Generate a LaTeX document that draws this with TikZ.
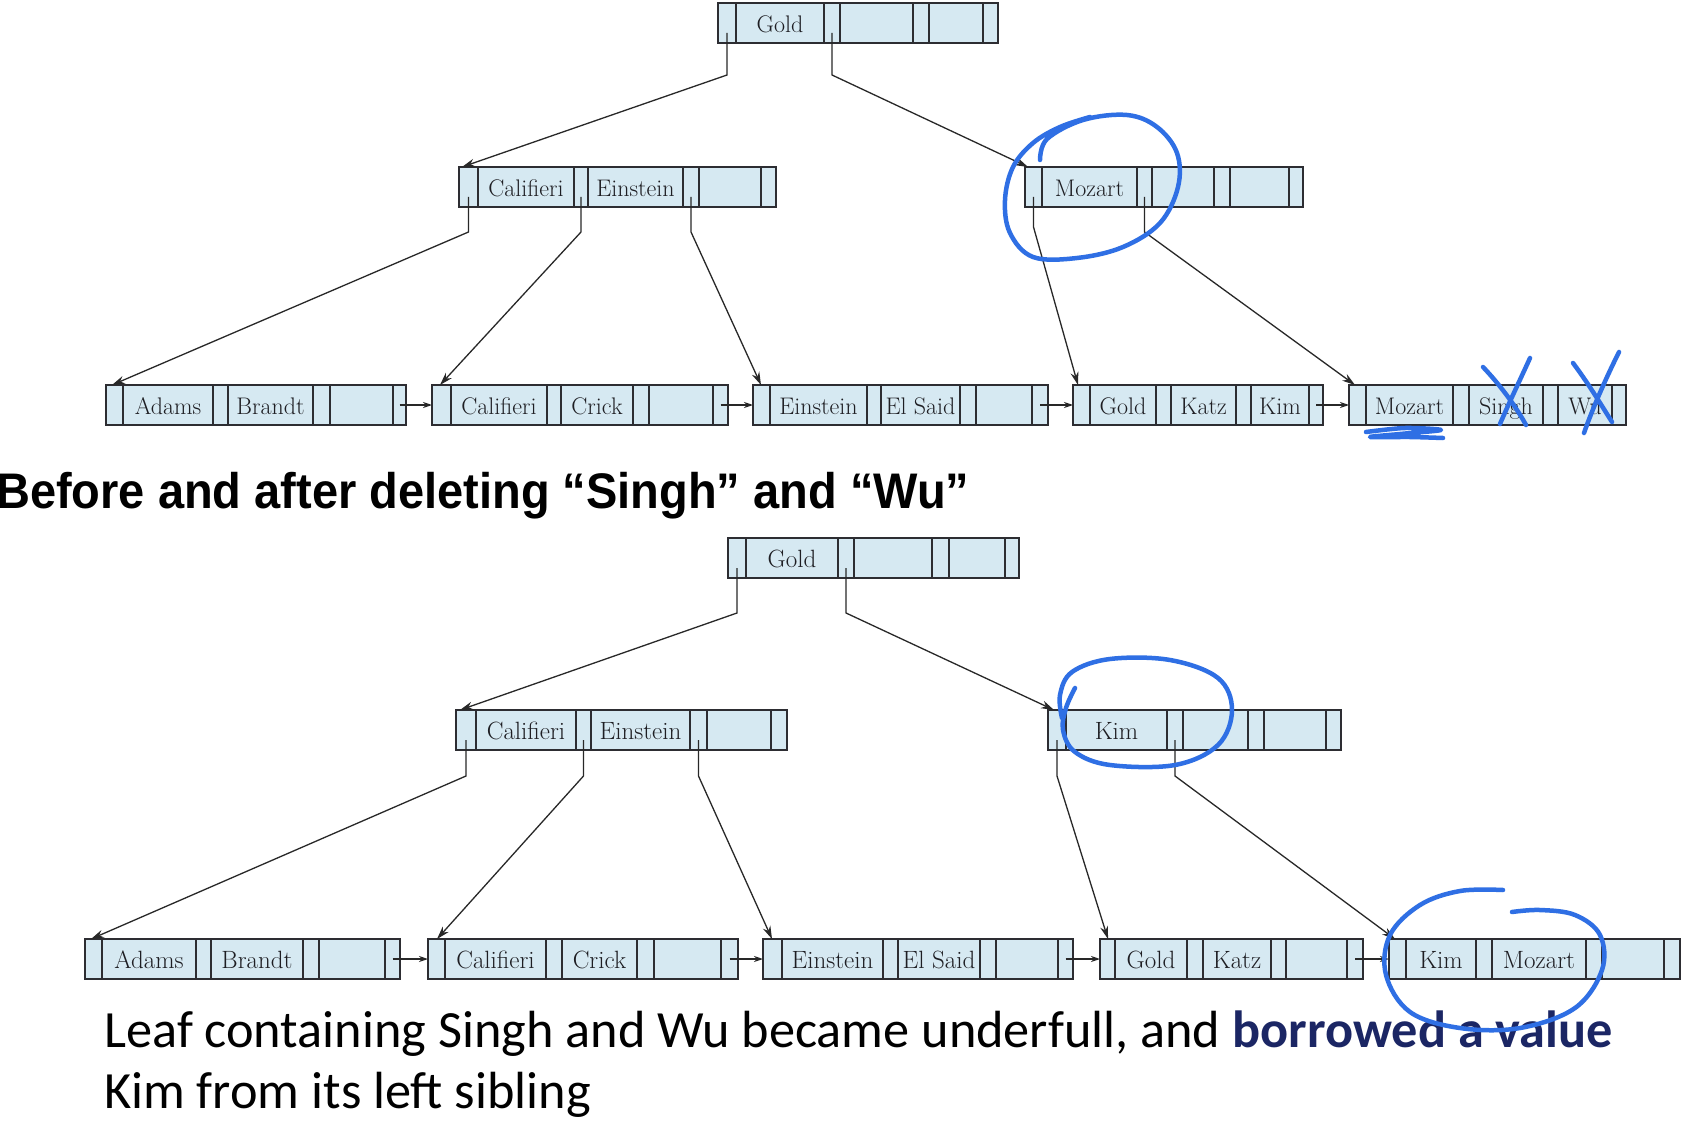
\documentclass[tikz,border=0pt]{standalone}
\usepackage{fontspec}
\newfontfamily\titlefont{Liberation Sans}
\newfontfamily\bodyfont{Carlito}
\usetikzlibrary{arrows.meta}
\definecolor{boxfill}{RGB}{214,233,242}
\definecolor{boxline}{RGB}{45,45,50}
\definecolor{keycol}{RGB}{30,30,35}
\definecolor{lnk}{RGB}{40,40,40}
\definecolor{ink}{RGB}{47,111,228}
\definecolor{navy}{RGB}{27,38,100}
\def\bx#1{\csname bpx#1\endcsname}
% name, top y, {x1,...,x8}, {k1,k2,k3}
\newcommand\bpnode[4]{%
  \foreach \xx [count=\i] in {#3}{\expandafter\xdef\csname bpx\i\endcsname{\xx}}%
  \pgfmathsetmacro\bpw{\bx{8}-\bx{1}}%
  \node[bpbox, minimum width=\bpw pt] (#1) at (\bx{1},#2) {};
  \foreach \i in {2,...,7}{\draw[bpdiv] (\bx{\i},#2) -- (\bx{\i},#2+40);}
  \foreach \k [count=\j] in {#4}{%
    \pgfmathtruncatemacro\ka{2*\j}\pgfmathtruncatemacro\kb{2*\j+1}%
    \node[keytext] (#1-k\j) at ({(\bx{\ka}+\bx{\kb})/2},#2+29.5) {\k};}
  \foreach \j in {1,...,4}{%
    \pgfmathtruncatemacro\pa{2*\j-1}\pgfmathtruncatemacro\pb{2*\j}%
    \coordinate (#1-p\j) at ({(\bx{\pa}+\bx{\pb})/2},#2+30);}
  \coordinate (#1-n) at ({(\bx{7}+\bx{8})/2},#2+20);
}
\begin{document}
\begin{tikzpicture}[x=1pt,y=-1pt,
  bpbox/.style={draw=boxline, fill=boxfill, line width=1.6pt, anchor=north west,
    minimum height=40pt, inner sep=0pt, outer sep=0pt},
  bpdiv/.style={draw=boxline, line width=1.6pt},
  keytext/.style={anchor=base, inner sep=0pt, text=keycol, font=\fontsize{24}{28}\selectfont},
  ptr/.style={draw=lnk, line width=1.3pt, -{Stealth[length=13pt,width=8pt]}},
  nextptr/.style={draw=lnk, line width=1.3pt, -{Stealth[length=9pt,width=6pt]}},
  blueink/.style={draw=ink, line width=4.5pt, line cap=round, line join=round}]
\useasboundingbox (0,0) rectangle (1686,1126);
\fill[white] (0,0) rectangle (1686,1126);

% ---------- top tree ----------
\bpnode{Troot}{3}{718,736,824,840,913,929,983,998}{Gold,{},{}}
\bpnode{Ti1}{167}{459,478,574,588,683,699,761,776}{Califieri,Einstein,{}}
\bpnode{Ti2}{167}{1025,1042,1137,1152,1214,1230,1289,1303}{Mozart,{},{}}
\bpnode{Tl1}{385}{106,123,213,228,313,330,393,406}{Adams,Brandt,{}}
\bpnode{Tl2}{385}{432,451,547,561,633,649,713,728}{Califieri,Crick,{}}
\bpnode{Tl3}{385}{753,770,867,881,960,976,1032,1048}{Einstein,El Said,{}}
\bpnode{Tl4}{385}{1073,1090,1156,1171,1236,1251,1309,1323}{Gold,Katz,Kim}
\bpnode{Tl5}{385}{1349,1366,1453,1469,1543,1558,1612,1626}{Mozart,Singh,Wu}

\draw[ptr] (Troot-p1) -- ++(0,42) -- ([xshift=3pt]Ti1.north west);
\draw[ptr] (Troot-p2) -- ++(0,42) -- ([xshift=3pt]Ti2.north west);
\draw[ptr] (Ti1-p1) -- ++(0,35) -- ([xshift=6pt]Tl1.north west);
\draw[ptr] (Ti1-p2) -- ++(0,35) -- ([xshift=8pt]Tl2.north west);
\draw[ptr] (Ti1-p3) -- ++(0,35) -- ([xshift=8pt]Tl3.north west);
\draw[ptr] (Ti2-p1) -- ++(0,30) -- ([xshift=5pt]Tl4.north west);
\draw[ptr] (Ti2-p2) -- ++(0,35) -- ([xshift=6pt]Tl5.north west);
\draw[nextptr] (Tl1-n) -- (Tl2.west);
\draw[nextptr] (Tl2-n) -- (Tl3.west);
\draw[nextptr] (Tl3-n) -- (Tl4.west);
\draw[nextptr] (Tl4-n) -- (Tl5.west);

% ---------- title ----------
\node[anchor=base west, inner sep=0pt, font=\titlefont\bfseries\fontsize{50}{56}\selectfont] (title) at (-4,508)
  {\scalebox{0.94}[1]{Before and after deleting “Singh” and “Wu”}};

% ---------- bottom tree ----------
\begin{scope}[keytext/.append style={font=\fontsize{25}{29}\selectfont}]
\bpnode{Broot}{538}{728,746,838,854,932,949,1005,1019}{Gold,{},{}}
\bpnode{Bi1}{710}{456,476,576,591,690,707,771,787}{Califieri,Einstein,{}}
\bpnode{Bi2}{710}{1048,1066,1167,1183,1248,1264,1326,1341}{Kim,{},{}}
\bpnode{Bl1}{939}{85,102,196,211,303,319,385,400}{Adams,Brandt,{}}
\bpnode{Bl2}{939}{428,445,546,562,637,654,721,738}{Califieri,Crick,{}}
\bpnode{Bl3}{939}{763,782,883,898,980,996,1058,1073}{Einstein,El Said,{}}
\bpnode{Bl4}{939}{1100,1115,1187,1203,1271,1286,1347,1363}{Gold,Katz,{}}
\bpnode{Bl5}{939}{1389,1406,1476,1492,1586,1602,1664,1680}{Kim,Mozart,{}}
\end{scope}

\draw[ptr] (Broot-p1) -- ++(0,45) -- ([xshift=4pt]Bi1.north west);
\draw[ptr] (Broot-p2) -- ++(0,45) -- ([xshift=6pt]Bi2.north west);
\draw[ptr] (Bi1-p1) -- ++(0,36) -- ([xshift=6pt]Bl1.north west);
\draw[ptr] (Bi1-p2) -- ++(0,36) -- ([xshift=9pt]Bl2.north west);
\draw[ptr] (Bi1-p3) -- ++(0,36) -- ([xshift=9pt]Bl3.north west);
\draw[ptr] (Bi2-p1) -- ++(0,36) -- ([xshift=8pt]Bl4.north west);
\draw[ptr] (Bi2-p2) -- ++(0,36) -- ([xshift=6pt]Bl5.north west);
\draw[nextptr] (Bl1-n) -- (Bl2.west);
\draw[nextptr] (Bl2-n) -- (Bl3.west);
\draw[nextptr] (Bl3-n) -- (Bl4.west);
\draw[nextptr] (Bl4-n) -- (Bl5.west);

% ---------- caption ----------
\node[anchor=base west, inner sep=0pt, font=\bodyfont\fontsize{52.3}{60}\selectfont] (cap1) at (104,1047)
  {Leaf containing Singh and Wu became underfull, and \textcolor{navy}{\bfseries borrowed a value}};
\node[anchor=base west, inner sep=0pt, font=\bodyfont\fontsize{52.3}{60}\selectfont] (cap2) at (104,1108)
  {Kim from its left sibling};

% ---------- hand-drawn blue marks ----------
\draw[blueink] plot[smooth, tension=0.6] coordinates {(1040,160) (1047,139) (1083,120) (1127,115) (1157,127) (1177,153) (1178,187) (1160,223) (1123,247) (1077,258) (1033,257) (1010,233) (1005,200) (1013,167) (1033,143) (1060,127) (1090,117)};
\draw[blueink] (1483,367) .. controls (1500,385) and (1515,405) .. (1526,425);
\draw[blueink] (1530,358) .. controls (1520,380) and (1508,405) .. (1500,424);
\draw[blueink] (1573,363) .. controls (1588,383) and (1600,403) .. (1612,422);
\draw[blueink] (1619,352) .. controls (1605,380) and (1592,410) .. (1584,433);
\draw[blueink] plot[smooth, tension=0.5] coordinates {(1366,432) (1405,428) (1441,430) (1400,434) (1370,437) (1410,437) (1443,438)};
\draw[blueink] plot[smooth, tension=0.6] coordinates {(1075,688) (1066,708) (1063,730) (1075,752) (1110,765) (1175,765) (1218,745) (1232,710) (1218,678) (1170,660) (1110,659) (1072,672) (1060,695) (1062,718)};
\draw[blueink] plot[smooth, tension=0.6] coordinates {(1503,890) (1460,891) (1420,905) (1390,935) (1386,975) (1410,1012) (1460,1028) (1520,1028) (1575,1008) (1602,970) (1600,935) (1575,915) (1540,910) (1512,912)};
\end{tikzpicture}
\end{document}
